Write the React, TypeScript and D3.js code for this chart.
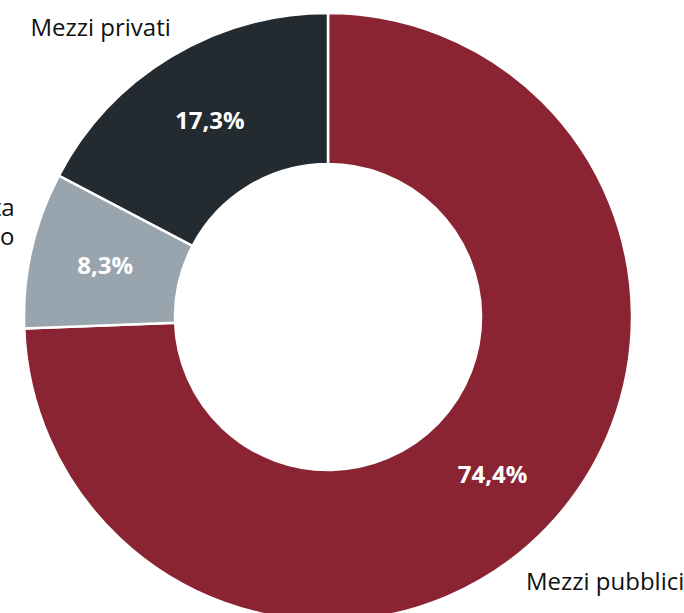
import React, { useEffect, useRef } from 'react';
import * as d3 from 'd3';

const categories = ['Mezzi pubblici', 'A piedi, in bicicletta|o monopattino', 'Mezzi privati'];
const values = [74.4, 8.3, 17.3];
const colors = ['#8a2332', '#98a4ae', '#232a30'];
// label offsets from the outer edge of each slice
const labelOffsets = [
  { dx: -21, dy: 62, anchor: 'start' },
  { dx: -17, dy: -34, anchor: 'end' },
  { dx: 0, dy: -21, anchor: 'end' },
];

const App = () => {
  const svgRef = useRef<SVGSVGElement>(null);

  useEffect(() => {
    document.body.style.margin = '0';
    const svg = d3.select(svgRef.current);
    svg.selectAll('*').remove();

    const width = 684;
    const height = 613;
    const cx = 328;
    const cy = 317;
    const outer = 304;
    const inner = 153;

    const data = categories.map((c, i) => ({ name: c, value: values[i], i }));

    const pie = d3.pie<any>().value(d => d.value).sort(null);
    const arc = d3.arc<any>().innerRadius(inner).outerRadius(outer);
    const edge = d3.arc<any>().innerRadius(outer).outerRadius(outer);

    const g = svg.attr('width', width).attr('height', height)
      .append('g')
      .attr('transform', `translate(${cx},${cy})`);

    const arcs = pie(data);

    g.selectAll('path')
      .data(arcs)
      .enter().append('path')
      .attr('d', arc)
      .attr('fill', d => colors[d.data.i])
      .attr('stroke', '#fff')
      .attr('stroke-width', 2.5);

    g.selectAll('text.pct')
      .data(arcs)
      .enter().append('text')
      .attr('class', 'pct')
      .attr('transform', d => `translate(${arc.centroid(d)})`)
      .attr('text-anchor', 'middle')
      .attr('dy', '0.33em')
      .style('font-family', '"Open Sans", sans-serif')
      .style('font-weight', 700)
      .style('font-size', '24px')
      .style('fill', '#fff')
      .text(d => d.data.value.toFixed(1).replace('.', ',') + '%');

    const labels = g.selectAll('text.lbl')
      .data(arcs)
      .enter().append('text')
      .attr('class', 'lbl')
      .attr('transform', d => {
        const [x, y] = edge.centroid(d);
        const o = labelOffsets[d.data.i];
        return `translate(${x + o.dx},${y + o.dy})`;
      })
      .attr('text-anchor', d => labelOffsets[d.data.i].anchor)
      .style('font-family', '"Open Sans", sans-serif')
      .style('font-size', '24px')
      .style('fill', '#111');

    labels.selectAll('tspan')
      .data(d => d.data.name.split('|'))
      .enter().append('tspan')
      .attr('x', 0)
      .attr('dy', (_, j) => (j === 0 ? 0 : 29))
      .text(t => t);
  }, []);

  return <svg ref={svgRef} style={{ display: 'block' }}></svg>;
};

export default App;
